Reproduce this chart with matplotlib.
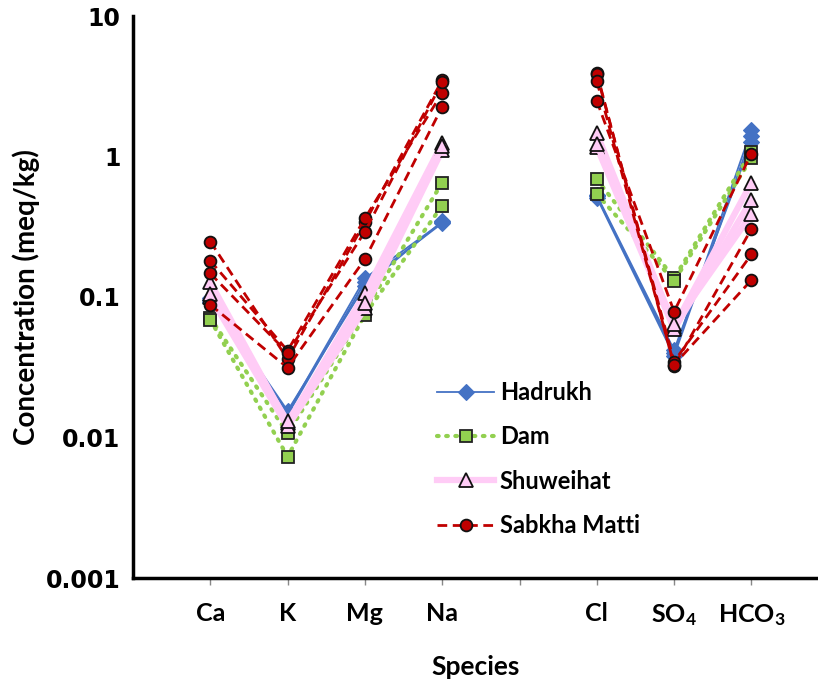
import numpy as np
import matplotlib
matplotlib.use("Agg")
import matplotlib.pyplot as plt
from matplotlib.ticker import FixedLocator, FixedFormatter, NullLocator

plt.rcParams["font.family"] = ["Lato", "DejaVu Sans"]
plt.rcParams["mathtext.fontset"] = "custom"
plt.rcParams["mathtext.rm"] = "Lato:bold"
plt.rcParams["mathtext.it"] = "Lato:bold"
plt.rcParams["mathtext.bf"] = "Lato:bold"

# Species (cations, gap, anions) and their x positions
species = ["Ca", "K", "Mg", "Na", "Cl", "SO4", "HCO3"]
x_pos = [1, 2, 3, 4, 6, 7, 8]
tick_pos = [1, 2, 3, 4, 5, 6, 7, 8]
tick_labels = ["Ca", "K", "Mg", "Na", "", "Cl", "SO$_4$", "HCO$_3$"]

# Concentrations (meq/kg), one row per sample, columns follow `species`
hadrukh = [
    [0.095, 0.0150, 0.136, 0.340, 0.520, 0.040, 1.55],
    [0.092, 0.0145, 0.128, 0.335, 0.510, 0.038, 1.40],
    [0.098, 0.0155, 0.120, 0.345, 0.530, 0.042, 1.27],
]
dam = [
    [0.071, 0.0107, 0.080, 0.652, 0.687, 0.136, 1.08],
    [0.069, 0.0073, 0.075, 0.447, 0.541, 0.130, 0.97],
]
shuweihat = [
    [0.127, 0.0126, 0.106, 1.24, 1.46, 0.0615, 0.652],
    [0.100, 0.0120, 0.083, 1.11, 1.17, 0.0590, 0.490],
    [0.105, 0.0130, 0.090, 1.18, 1.22, 0.0640, 0.388],
]
sabkha_matti = [
    [0.248, 0.0362, 0.340, 3.50, 3.95, 0.0323, 0.305],
    [0.181, 0.0415, 0.363, 2.84, 3.85, 0.0347, 0.201],
    [0.147, 0.0400, 0.292, 3.40, 3.44, 0.0330, 0.132],
    [0.088, 0.0314, 0.186, 2.26, 2.49, 0.0787, 1.05],
]

styles = [
    ("Hadrukh", hadrukh, dict(color="#4472C4", lw=1.3, ls="-", marker="D", ms=8,
                              mfc="#4472C4", mec="#4472C4", mew=0.8)),
    ("Dam", dam, dict(color="#92D050", lw=3.0, ls=(0, (0.4, 1.8)), dash_capstyle="round",
                      marker="s", ms=8, mfc="#92D050", mec="#222222", mew=1.3)),
    ("Shuweihat", shuweihat, dict(color="#FFCCF6", lw=4.5, ls="-", marker="^", ms=10,
                                  mfc="#FFCCF6", mec="#111111", mew=1.3)),
    ("Sabkha Matti", sabkha_matti, dict(color="#C00000", lw=2.0, ls=(0, (3.5, 2.0)),
                                        marker="o", ms=8.5, mfc="#C00000", mec="#111111", mew=1.3)),
]

fig = plt.figure(figsize=(8.18, 6.84), dpi=100)
ax = fig.add_axes([133 / 818, 1 - 578 / 684, 1 - 133 / 818, (578 - 16) / 684])

for z, (name, rows, kw) in enumerate(styles):
    for i, row in enumerate(rows):
        xs = x_pos[:4] + [np.nan] + x_pos[4:]
        ys = list(row[:4]) + [np.nan] + list(row[4:])
        ax.plot(xs, ys, label=name if i == 0 else None, zorder=2 + z, **kw)

ax.set_yscale("log")
ax.set_ylim(0.001, 10)
ax.set_xlim(0, 685 / 77.3)
ax.yaxis.set_major_locator(FixedLocator([0.001, 0.01, 0.1, 1, 10]))
ax.yaxis.set_major_formatter(FixedFormatter(["0.001", "0.01", "0.1", "1", "10"]))
ax.yaxis.set_minor_locator(NullLocator())
ax.xaxis.set_major_locator(FixedLocator(tick_pos))
ax.xaxis.set_major_formatter(FixedFormatter(tick_labels))

for lab in ax.get_yticklabels():
    lab.set_family("DejaVu Sans")
    lab.set_fontweight("bold")
    lab.set_fontsize(17)
for lab in ax.get_xticklabels():
    lab.set_fontweight("bold")
    lab.set_fontsize(18)

ax.tick_params(axis="y", length=0, pad=9)
ax.tick_params(axis="x", length=5, width=1, color="#888888", pad=12)

for side in ("top", "right"):
    ax.spines[side].set_visible(False)
for side in ("left", "bottom"):
    ax.spines[side].set_linewidth(2.5)
    ax.spines[side].set_color("black")

ax.set_ylabel("Concentration (meq/kg)", fontsize=20, fontweight="bold", labelpad=4)
ax.set_xlabel("Species", fontsize=19, fontweight="bold", labelpad=20)

leg = ax.legend(loc="upper left", bbox_to_anchor=(416 / 818, 1 - 360 / 684),
                bbox_transform=fig.transFigure, frameon=False,
                handlelength=2.4, labelspacing=0.9, handletextpad=0.25,
                prop=dict(weight="bold", size=17))
leg.set_zorder(10)

fig.savefig("out.png", dpi=100)
